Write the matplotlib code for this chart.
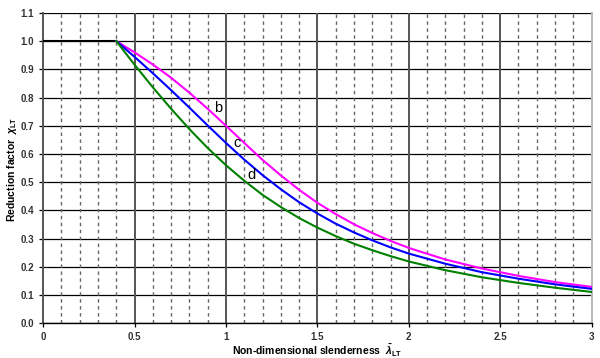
import matplotlib
matplotlib.use('Agg')
import matplotlib.pyplot as plt
import numpy as np

plt.rcParams['font.family'] = ['Liberation Sans', 'DejaVu Sans']
plt.rcParams['mathtext.fontset'] = 'custom'
plt.rcParams['mathtext.rm'] = 'Liberation Sans:bold'
plt.rcParams['mathtext.it'] = 'Liberation Sans:bold:italic'
plt.rcParams['mathtext.bf'] = 'Liberation Sans:bold'

# plateau
plateau_x = [0.0, 0.4]
plateau_y = [1.0, 1.0]

# slenderness values and reduction factors
lam = [0.4, 0.5, 0.6, 0.7, 0.8, 0.9, 1.0, 1.1, 1.2, 1.3, 1.4, 1.5, 1.6, 1.7,
       1.8, 1.9, 2.0, 2.2, 2.4, 2.6, 2.8, 3.0]
chi_b = [1.0, 0.960, 0.917, 0.870, 0.817, 0.760, 0.700, 0.639, 0.579, 0.524,
         0.473, 0.427, 0.387, 0.351, 0.320, 0.292, 0.267, 0.226, 0.194, 0.168,
         0.146, 0.129]
chi_c = [1.0, 0.944, 0.886, 0.826, 0.764, 0.701, 0.639, 0.580, 0.525, 0.475,
         0.429, 0.389, 0.353, 0.322, 0.294, 0.269, 0.247, 0.211, 0.181, 0.158,
         0.138, 0.122]
chi_d = [1.0, 0.916, 0.836, 0.760, 0.688, 0.621, 0.560, 0.505, 0.455, 0.412,
         0.373, 0.339, 0.309, 0.282, 0.259, 0.238, 0.219, 0.188, 0.163, 0.143,
         0.126, 0.111]

curve_names = ['b', 'c', 'd']
label_pos = [(0.955, 0.763), (1.06, 0.639), (1.137, 0.526)]

x_ticks = [0, 0.5, 1, 1.5, 2, 2.5, 3]
x_labels = ['0', '0.5', '1', '1.5', '2', '2.5', '3']
y_ticks = np.round(np.arange(0, 1.11, 0.1), 1)

fig = plt.figure(figsize=(6.0, 3.58), dpi=100)
ax = fig.add_axes([0.072, 0.097, 0.914, 0.867])

# grid
for yv in y_ticks:
    ax.axhline(yv, color='black', lw=0.9, zorder=1)
for xv in np.arange(0.1, 3.0, 0.1):
    if abs(xv * 2 - round(xv * 2)) < 1e-6:
        ax.axvline(xv, color='#555555', lw=1.4, zorder=1)
    else:
        ax.axvline(xv, color='#666666', lw=1.0, ls=(0, (2.5, 2.5)), zorder=1)

ax.plot(plateau_x, plateau_y, color='black', lw=1.5, zorder=3)
colors = ['#ff00ff', '#0000ff', '#008000']
for ys, c in zip([chi_b, chi_c, chi_d], colors):
    ax.plot(lam, ys, color=c, lw=1.5, zorder=3)

for name, (tx, ty) in zip(curve_names, label_pos):
    ax.text(tx, ty, name, fontsize=10.5, color='black', ha='center',
            va='center', zorder=4)

ax.set_xlim(0, 3)
ax.set_ylim(0, 1.1)
ax.set_xticks(x_ticks)
ax.set_xticklabels(x_labels)
ax.set_yticks(y_ticks)
ax.set_yticklabels(['%.1f' % v for v in y_ticks])
ax.tick_params(axis='both', labelsize=7, length=3, color='black', width=0.9)
ax.tick_params(axis='x', pad=3)
for lab in ax.get_xticklabels() + ax.get_yticklabels():
    lab.set_fontweight('bold')
    lab.set_color('#333333')

ax.spines['top'].set_visible(False)
ax.spines['right'].set_color('#bbbbbb')
ax.spines['right'].set_linewidth(1.5)
ax.spines['left'].set_color('#555555')
ax.spines['left'].set_linewidth(1.4)
ax.spines['bottom'].set_linewidth(1.0)

ax.set_xlabel(r'Non-dimensional slenderness  $\bar{\lambda}_{\mathrm{LT}}$',
              fontsize=7.5, fontweight='bold', va='center')
ax.set_ylabel(r'Reduction factor  $\chi_{\mathrm{LT}}$', fontsize=7.5,
              fontweight='bold', va='center')
# place the axis labels in figure pixels like the original
ax.xaxis.set_label_coords(317 / 600, 1 - 351 / 358, transform=fig.transFigure)
ax.yaxis.set_label_coords(12 / 600, 1 - 169 / 358, transform=fig.transFigure)

plt.savefig('out.png', dpi=100)
